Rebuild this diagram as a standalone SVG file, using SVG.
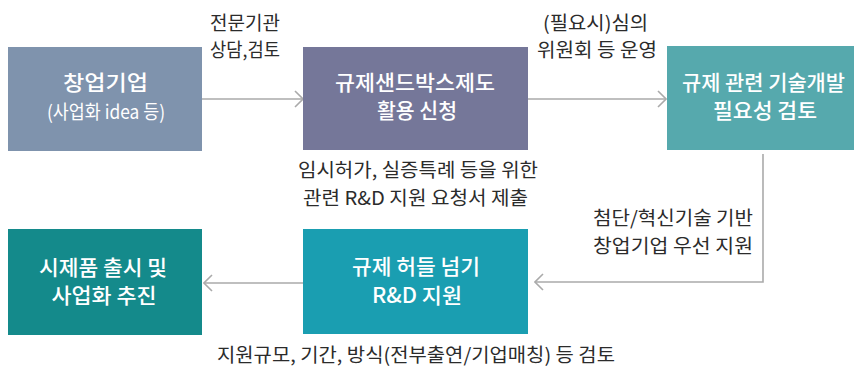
<svg xmlns="http://www.w3.org/2000/svg" width="854" height="371" viewBox="0 0 854 371">
<defs>
<style>
.lbl{font-family:"Noto Sans CJK KR","Noto Sans",sans-serif;font-size:19px;fill:#2b2b2b;text-anchor:middle}
.bx{font-family:"Noto Sans CJK KR","Noto Sans",sans-serif;font-size:21px;font-weight:500;fill:#fff;text-anchor:middle}
.sub{font-size:19px;font-weight:400}
.con{fill:none;stroke:#aaa;stroke-width:1.6}
</style>
<marker id="arr" viewBox="0 0 10 20" refX="9" refY="10" markerWidth="10" markerHeight="20" markerUnits="userSpaceOnUse" orient="auto">
<polyline points="1,2 9,10 1,18" fill="none" stroke="#aaa" stroke-width="1.6"/>
</marker>
</defs>
<rect width="854" height="371" fill="#fff"/>
<g id="connectors">
<line class="con" x1="202" y1="99" x2="303" y2="99" marker-end="url(#arr)"/>
<line class="con" x1="528" y1="99" x2="666" y2="99" marker-end="url(#arr)"/>
<polyline class="con" points="763,154 763,282 535,282" marker-end="url(#arr)"/>
<line class="con" x1="303" y1="283" x2="204" y2="283" marker-end="url(#arr)"/>
</g>
<g id="node-startup">
<rect x="8" y="47" width="194" height="104" fill="#7f93ad"/>
<text class="bx" x="105.5" y="90" textLength="85" lengthAdjust="spacingAndGlyphs">창업기업</text>
<text class="bx sub" x="106" y="119" textLength="118" lengthAdjust="spacingAndGlyphs">(사업화 idea 등)</text>
</g>
<g id="node-sandbox">
<rect x="303" y="47" width="225" height="103" fill="#757799"/>
<text class="bx" x="415" y="90" textLength="160" lengthAdjust="spacingAndGlyphs">규제샌드박스제도</text>
<text class="bx" x="417" y="118" textLength="80" lengthAdjust="spacingAndGlyphs">활용 신청</text>
</g>
<g id="node-review">
<rect x="667" y="46" width="194" height="104" fill="#56a9ad"/>
<text class="bx" x="763.5" y="90" textLength="163" lengthAdjust="spacingAndGlyphs">규제 관련 기술개발</text>
<text class="bx" x="765" y="118" textLength="104" lengthAdjust="spacingAndGlyphs">필요성 검토</text>
</g>
<g id="node-rnd">
<rect x="303" y="229" width="225" height="105" fill="#1a9eb1"/>
<text class="bx" x="416" y="274" textLength="128" lengthAdjust="spacingAndGlyphs">규제 허들 넘기</text>
<text class="bx" x="417" y="303" textLength="90" lengthAdjust="spacingAndGlyphs">R&amp;D 지원</text>
</g>
<g id="node-launch">
<rect x="8" y="229" width="194" height="106" fill="#148a8b"/>
<text class="bx" x="103" y="275" textLength="128" lengthAdjust="spacingAndGlyphs">시제품 출시 및</text>
<text class="bx" x="104" y="303" textLength="105" lengthAdjust="spacingAndGlyphs">사업화 추진</text>
</g>
<g id="labels">
<text class="lbl" x="245" y="30" textLength="70" lengthAdjust="spacingAndGlyphs">전문기관</text>
<text class="lbl" x="245" y="57" textLength="70" lengthAdjust="spacingAndGlyphs">상담,검토</text>
<text class="lbl" x="595.5" y="30" textLength="105" lengthAdjust="spacingAndGlyphs">(필요시)심의</text>
<text class="lbl" x="597" y="57" textLength="120" lengthAdjust="spacingAndGlyphs">위원회 등 운영</text>
<text class="lbl" x="418" y="177" textLength="240" lengthAdjust="spacingAndGlyphs">임시허가, 실증특례 등을 위한</text>
<text class="lbl" x="415.5" y="205" textLength="225" lengthAdjust="spacingAndGlyphs">관련 R&amp;D 지원 요청서 제출</text>
<text class="lbl" x="673" y="225" textLength="160" lengthAdjust="spacingAndGlyphs">첨단/혁신기술 기반</text>
<text class="lbl" x="673" y="253" textLength="160" lengthAdjust="spacingAndGlyphs">창업기업 우선 지원</text>
<text class="lbl" x="416" y="362" textLength="398" lengthAdjust="spacingAndGlyphs">지원규모, 기간, 방식(전부출연/기업매칭) 등 검토</text>
</g>
</svg>
